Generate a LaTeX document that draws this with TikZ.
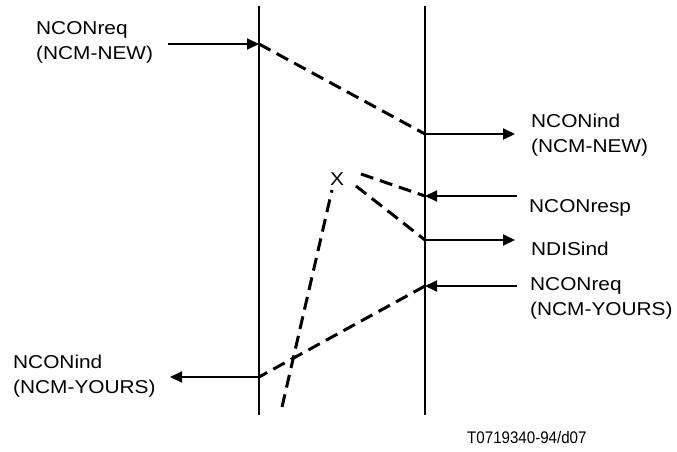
\documentclass[tikz,border=0pt]{standalone}
\usepackage{fontspec}
\setmainfont{Liberation Sans}[FakeStretch=1.12]
\newfontfamily\figidfont{Liberation Sans}[FakeStretch=0.9]
\usetikzlibrary{arrows.meta,positioning}

\begin{document}
\begin{tikzpicture}[x=1pt, y=-1pt, every node/.style={font=\fontsize{18.6}{25}\selectfont, inner sep=0pt}]
\tikzset{lifeline/.style={line width=2pt}}
\tikzset{prim/.style={-{Triangle[length=12pt,width=11pt]}, line width=2pt}}
\tikzset{relay/.style={line width=3pt, dash pattern=on 13pt off 7pt}}
\tikzset{primtext/.style={anchor=base west, align=left}}
\useasboundingbox (0,0) rectangle (677,451);
% the two stations
\coordinate (lefttop) at (259,6);
\coordinate (leftbot) at (259,415);
\coordinate (righttop) at (425,6);
\coordinate (rightbot) at (425,415);
\draw[lifeline] (lefttop) -- (leftbot);
\draw[lifeline] (righttop) -- (rightbot);
% points on the stations
\coordinate (lreq) at (259,44);
\coordinate (lind) at (259,377);
\coordinate (rind) at (425,134);
\coordinate (rresp) at (425,196);
\coordinate (rdis) at (425,240);
\coordinate (rreq) at (425,286);
% free ends of the primitives
\coordinate (reqin) at (168,44);
\coordinate (indout) at (515,134);
\coordinate (respin) at (517,196);
\coordinate (disout) at (515,240);
\coordinate (reqyin) at (517,286);
\coordinate (indyout) at (170,377);
% texts (base = baseline of the last line)
\node[primtext] (reqnew) at (36,59) {NCONreq\\(NCM-NEW)};
\node[primtext] (indnew) at (531,152) {NCONind\\(NCM-NEW)};
\node[primtext] (resp) at (529,212) {NCONresp};
\node[primtext] (dis) at (531,255) {NDISind};
\node[primtext] (reqyours) at (530,315) {NCONreq\\(NCM-YOURS)};
\node[primtext] (indyours) at (13,393) {NCONind\\(NCM-YOURS)};
\node (cross) at (337,179) {X};
\node[anchor=base west, font=\figidfont\fontsize{16.8}{20}\selectfont] (figid) at (467,443) {T0719340-94/d07};
% ends of the dashed relays
\coordinate (crossresp) at (361,174);
\coordinate (crossdis) at (356,186);
\coordinate (crossyours) at (332,190);
\coordinate (yoursstart) at (282,407);
% primitives
\draw[prim] (reqin) -- (lreq);
\draw[prim] (rind) -- (indout);
\draw[prim] (respin) -- (rresp);
\draw[prim] (rdis) -- (disout);
\draw[prim] (reqyin) -- (rreq);
\draw[prim] (lind) -- (indyout);
% relays
\draw[relay] (lreq) -- (rind);
\draw[relay] (crossresp) -- (rresp);
\draw[relay] (crossdis) -- (rdis);
\draw[relay] (rreq) -- (lind);
\draw[relay] (yoursstart) -- (crossyours);
\end{tikzpicture}
\end{document}
